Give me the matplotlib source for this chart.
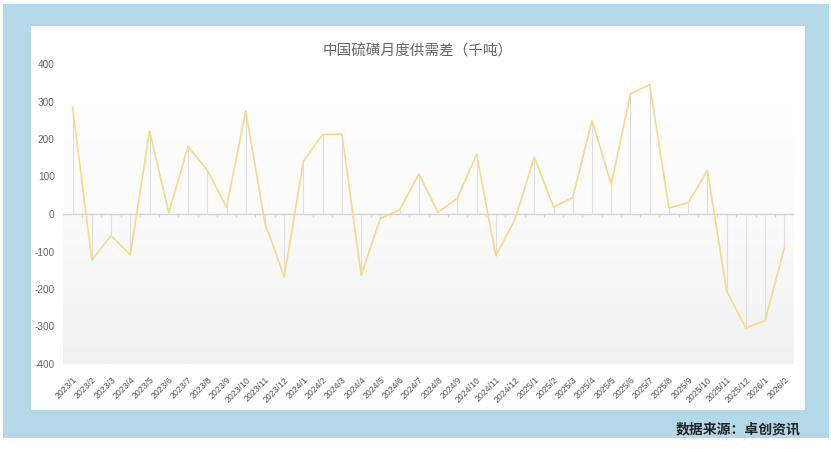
import numpy as np
import matplotlib
matplotlib.use("Agg")
import matplotlib.pyplot as plt
from matplotlib.patches import Rectangle
from matplotlib.colors import LinearSegmentedColormap
from matplotlib.transforms import ScaledTranslation

plt.rcParams['font.family'] = ['Noto Sans CJK SC', 'DejaVu Sans']

# monthly supply-demand gap, kt
months = (["2023/%d" % m for m in range(1, 13)]
          + ["2024/%d" % m for m in range(1, 13)]
          + ["2025/%d" % m for m in range(1, 13)]
          + ["2026/1", "2026/2"])
gap = [284, -123, -58, -109, 221, 4, 180, 117, 18, 275, -25, -167,
       141, 212, 213, -163, -12, 11, 107, 4, 42, 159, -111, -14,
       152, 18, 44, 250, 79, 321, 345, 16, 30, 116, -206, -304,
       -284, -90]
yticks = [-400, -300, -200, -100, 0, 100, 200, 300, 400]

W, H = 831, 449
fig = plt.figure(figsize=(W / 100, H / 100), dpi=100)
fig.patch.set_facecolor("white")

# blue frame and white panel
fig.patches.append(Rectangle((3 / W, 11 / H), 826 / W, 434 / H,
                             transform=fig.transFigure, facecolor="#b3d8e7",
                             edgecolor="none", zorder=-2))
fig.patches.append(Rectangle((31 / W, 39 / H), 774 / W, 384 / H,
                             transform=fig.transFigure, facecolor="white",
                             edgecolor="none", zorder=-1))

ax = fig.add_axes([63 / W, 85 / H, 731 / W, 300 / H])
ax.set_zorder(5)
ax.set_facecolor("none")

x = np.arange(len(months))
lo, hi = -0.5, len(months) - 0.5

# background gradient in plot area
cmap = LinearSegmentedColormap.from_list("bg", ["#ffffff", "#fbfbfb", "#f1f1f1"])
grad = np.linspace(0, 1, 256).reshape(-1, 1)
ax.imshow(grad, extent=[lo, hi, -400, 400], origin="upper", aspect="auto",
          cmap=cmap, zorder=0)
ax.set_ylim(-400, 400)
ax.set_xlim(lo, hi)

# zero axis with small category ticks
ax.axhline(0, color="#d3d3d3", lw=1.0, zorder=1)
ax.vlines(x[:-1] + 0.5, -9, 0, color="#d3d3d3", lw=0.8, zorder=1)

# drop lines and the series line
ax.vlines(x, 0, gap, color="#dedede", lw=0.8, zorder=2)
ax.plot(x, gap, color="#fad88a", lw=1.2, zorder=3)

ax.set_yticks(yticks)
ax.set_yticklabels([str(v) for v in yticks], fontsize=7.2, color="#666666",
                   family=["Liberation Sans"])
ax.set_xticks(x)
ax.set_xticklabels(months, rotation=45, ha="right", rotation_mode="anchor",
                   fontsize=6.3, color="#555555", family=["Liberation Sans"])
shift = ScaledTranslation(-5 / 100, 0, fig.dpi_scale_trans)
for lbl in ax.get_xticklabels():
    lbl.set_transform(lbl.get_transform() + shift)
ax.tick_params(axis="both", length=0)
ax.tick_params(axis="y", pad=6)
ax.tick_params(axis="x", pad=8)
for s in ax.spines.values():
    s.set_visible(False)

fig.text(418 / W, 1 - 51 / H, "中国硫磺月度供需差（千吨）", ha="center", va="center",
         fontsize=10.5, color="#666666")
fig.text(801 / W, 1 - 429 / H, "数据来源：卓创资讯", ha="right", va="center",
         fontsize=10, color="#222222", fontweight="bold")

fig.savefig("out.png", dpi=100)
